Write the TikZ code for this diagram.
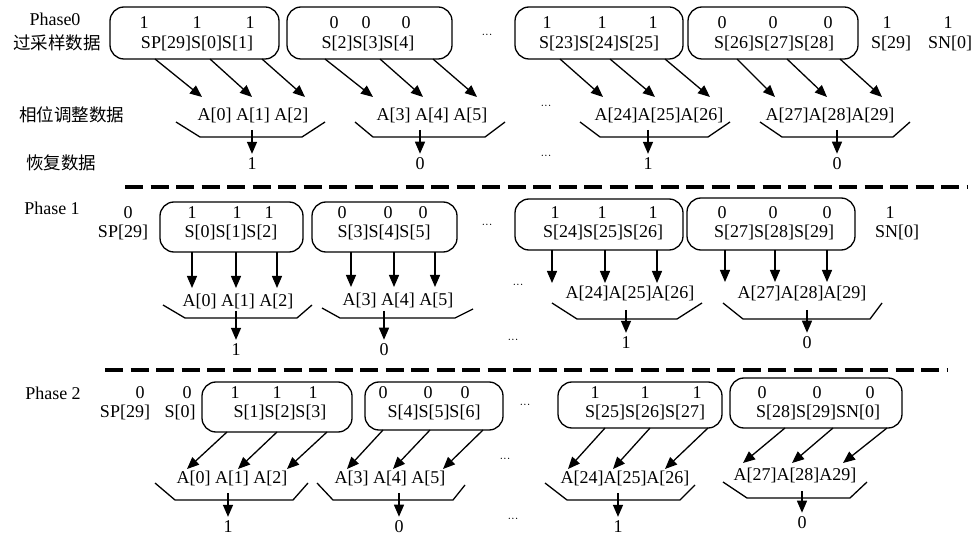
\documentclass[tikz,border=0pt]{standalone}
\usepackage{fontspec}
\setmainfont{Liberation Serif}
\newfontfamily\cjk{Noto Sans CJK SC}
\usetikzlibrary{arrows.meta}
\tikzset{
  txt/.style={inner sep=0pt, font=\fontsize{18}{20}\selectfont},
  cn/.style={inner sep=0pt, font=\cjk\fontsize{17.5}{20}\selectfont},
  dotsn/.style={inner sep=0pt, font=\fontsize{11}{12}\selectfont},
  rbox/.style={draw, line width=1.3pt, rounded corners=14pt, inner sep=0pt},
  arr/.style={line width=1.3pt, -{Triangle[length=12pt,width=10pt]}},
  brace/.style={line width=1.3pt, line join=round},
  sep/.style={line width=3.5pt, dash pattern=on 18pt off 7.5pt}
}
\begin{document}
\begin{tikzpicture}[x=1pt,y=-1pt]
\useasboundingbox (0,0) rectangle (977,537);

% ---------- Phase 0 ----------
\node[txt] (ph0) at (55,19) {Phase0};
\node[cn] (l01) at (57,43) {过采样数据};
\node[cn] (l02) at (72,115) {相位调整数据};
\node[cn] (l03) at (61,163) {恢复数据};

\node[rbox, minimum width=169pt, minimum height=52pt] (b01) at (194.5,33) {};
\node[rbox, minimum width=165pt, minimum height=52pt] (b02) at (369.5,33) {};
\node[rbox, minimum width=168pt, minimum height=52pt] (b03) at (599,33) {};
\node[rbox, minimum width=170pt, minimum height=52pt] (b04) at (773,33) {};

\foreach \i/\x/\v in {a/144/1,b/197/1,c/250/1,d/334/0,e/366/0,f/406/0,g/547/1,h/602/1,i/653/1,j/722/0,k/773/0,l/828/0,m/887/1,n/948/1}
  \node[txt] (d0\i) at (\x,23) {\v};
\node[txt] (n01) at (197,43) {SP[29]S[0]S[1]};
\node[txt] (n02) at (368,43) {S[2]S[3]S[4]};
\node[txt] (n03) at (599,43) {S[23]S[24]S[25]};
\node[txt] (n04) at (774,43) {S[26]S[27]S[28]};
\node[txt] (n05) at (891,43) {S[29]};
\node[txt] (n06) at (950,43) {SN[0]};

\foreach \i/\sx/\ex in {1/155/202,2/210/252,3/262/305,4/325/373,5/380/423,6/433/477,7/560/603,8/610/655,9/665/710,10/737/775,11/787/827,12/840/882}{
  \coordinate (s0\i) at (\sx,59); \coordinate (e0\i) at (\ex,97);
  \draw[arr] (s0\i) -- (e0\i);
}
\node[txt] (a01) at (253,115) {A[0] A[1] A[2]};
\node[txt] (a02) at (432,115) {A[3] A[4] A[5]};
\node[txt] (a03) at (659,115) {A[24]A[25]A[26]};
\node[txt] (a04) at (830,115) {A[27]A[28]A[29]};

\draw[brace] (176,122) -- (200,137) -- (302,137) -- (325,122);
\draw[brace] (355,122) -- (373,137) -- (485,137) -- (505,122);
\draw[brace] (580,122) -- (600,137) -- (708,137) -- (730,122);
\draw[brace] (760,122) -- (782,137) -- (893,137) -- (910,122);
\foreach \i/\x/\v in {1/252/1,2/420/0,3/648/1,4/837/0}{
  \coordinate (t0\i) at (\x,130);
  \node[txt] (r0\i) at (\x,164) {\v};
  \draw[arr, shorten >=4pt] (t0\i) -- (r0\i.north);
}
\node[dotsn] (x01) at (487,36) {···};
\node[dotsn] (x02) at (546,107) {···};
\node[dotsn] (x03) at (546,157) {···};

\draw[sep] (125,187) -- (968,187);

% ---------- Phase 1 ----------
\node[txt] (ph1) at (52,208) {Phase 1};
\node[txt] (d1z) at (128,213) {0};
\node[txt] (n1z) at (123,232) {SP[29]};

\node[rbox, minimum width=143pt, minimum height=50pt] (b11) at (231.5,227) {};
\node[rbox, minimum width=145pt, minimum height=50pt] (b12) at (384.5,227) {};
\node[rbox, minimum width=168pt, minimum height=51pt] (b13) at (599,224.5) {};
\node[rbox, minimum width=168pt, minimum height=52pt] (b14) at (771,224) {};

\foreach \i/\x/\v in {a/192/1,b/237/1,c/269/1,d/342/0,e/388/0,f/423/0,g/555/1,h/602/1,i/653/1,j/722/0,k/773/0,l/827/0,m/890/1}
  \node[txt] (d1\i) at (\x,213) {\v};
\node[txt] (n11) at (231,232) {S[0]S[1]S[2]};
\node[txt] (n12) at (384,232) {S[3]S[4]S[5]};
\node[txt] (n13) at (603,232) {S[24]S[25]S[26]};
\node[txt] (n14) at (774,232) {S[27]S[28]S[29]};
\node[txt] (n15) at (897,232) {SN[0]};

\foreach \i/\x/\sy/\ey in {1/192/252/288,2/236/252/288,3/277/252/288,4/351/252/287,5/394/252/287,6/435/252/287,7/552/250/283,8/605/250/283,9/657/250/283,10/725/250/282,11/775/250/282,12/827/250/282}{
  \coordinate (s1\i) at (\x,\sy); \coordinate (e1\i) at (\x,\ey);
  \draw[arr] (s1\i) -- (e1\i);
}
\node[txt] (a11) at (238,301) {A[0] A[1] A[2]};
\node[txt] (a12) at (398,300) {A[3] A[4] A[5]};
\node[txt] (a13) at (630,293) {A[24]A[25]A[26]};
\node[txt] (a14) at (802,293) {A[27]A[28]A[29]};

\draw[brace] (163,305) -- (185,318) -- (297,318) -- (312,305);
\draw[brace] (322,308) -- (340,318) -- (455,318) -- (473,309);
\draw[brace] (552,303) -- (577,319) -- (677,319) -- (702,303);
\draw[brace] (723,303) -- (743,319) -- (870,319) -- (882,303);
\foreach \i/\x/\y/\ry/\v in {1/236/311/350/1,2/384/311/350/0,3/626/310/343/1,4/807/310/343/0}{
  \coordinate (t1\i) at (\x,\y);
  \node[txt] (r1\i) at (\x,\ry) {\v};
  \draw[arr, shorten >=4pt] (t1\i) -- (r1\i.north);
}
\node[dotsn] (x11) at (487,226) {···};
\node[dotsn] (x12) at (518,286) {···};
\node[dotsn] (x13) at (513,341) {···};

\draw[sep] (105,370) -- (948,370);

% ---------- Phase 2 ----------
\node[txt] (ph2) at (53,393) {Phase 2};
\node[txt] (d2y) at (140,393) {0};
\node[txt] (n2y) at (125,412) {SP[29]};
\node[txt] (d2z) at (187,393) {0};
\node[txt] (n2z) at (180,412) {S[0]};

\node[rbox, minimum width=150pt, minimum height=50pt] (b21) at (277,407) {};
\node[rbox, minimum width=138pt, minimum height=48pt] (b22) at (434,406) {};
\node[rbox, minimum width=164pt, minimum height=46pt] (b23) at (640,405) {};
\node[rbox, minimum width=172pt, minimum height=50pt] (b24) at (816,403) {};

\foreach \i/\x/\v in {a/235/1,b/277/1,c/313/1,d/383/0,e/428/0,f/465/0,g/595/1,h/645/1,i/697/1,j/762/0,k/817/0,l/870/0}
  \node[txt] (d2\i) at (\x,393) {\v};
\node[txt] (n21) at (280,412) {S[1]S[2]S[3]};
\node[txt] (n22) at (434,412) {S[4]S[5]S[6]};
\node[txt] (n23) at (645,412) {S[25]S[26]S[27]};
\node[txt] (n24) at (818,412) {S[28]S[29]SN[0]};

\foreach \i/\sx/\sy/\ex/\ey in {1/227/432/187/469,2/277/432/238/469,3/327/432/287/469,4/383/430/347/469,5/430/430/393/469,6/483/430/443/469,7/605/428/568/469,8/650/428/613/469,9/708/428/665/469,10/785/428/743/463,11/833/428/792/463,12/887/428/843/463}{
  \coordinate (s2\i) at (\sx,\sy); \coordinate (e2\i) at (\ex,\ey);
  \draw[arr] (s2\i) -- (e2\i);
}
\node[txt] (a21) at (232,478) {A[0] A[1] A[2]};
\node[txt] (a22) at (390,478) {A[3] A[4] A[5]};
\node[txt] (a23) at (625,478) {A[24]A[25]A[26]};
\node[txt] (a24) at (795,475) {A[27]A[28]A29]};

\draw[brace] (155,483) -- (175,500) -- (293,500) -- (308,483);
\draw[brace] (317,483) -- (333,500) -- (453,500) -- (465,485);
\draw[brace] (545,483) -- (567,500) -- (680,500) -- (695,485);
\draw[brace] (723,482) -- (747,498) -- (850,498) -- (867,482);
\foreach \i/\x/\y/\ry/\v in {1/228/493/527/1,2/399/493/527/0,3/618/493/527/1,4/802/491/523/0}{
  \coordinate (t2\i) at (\x,\y);
  \node[txt] (r2\i) at (\x,\ry) {\v};
  \draw[arr, shorten >=4pt] (t2\i) -- (r2\i.north);
}
\node[dotsn] (x21) at (525,406) {···};
\node[dotsn] (x22) at (505,460) {···};
\node[dotsn] (x23) at (513,520) {···};
\end{tikzpicture}
\end{document}
